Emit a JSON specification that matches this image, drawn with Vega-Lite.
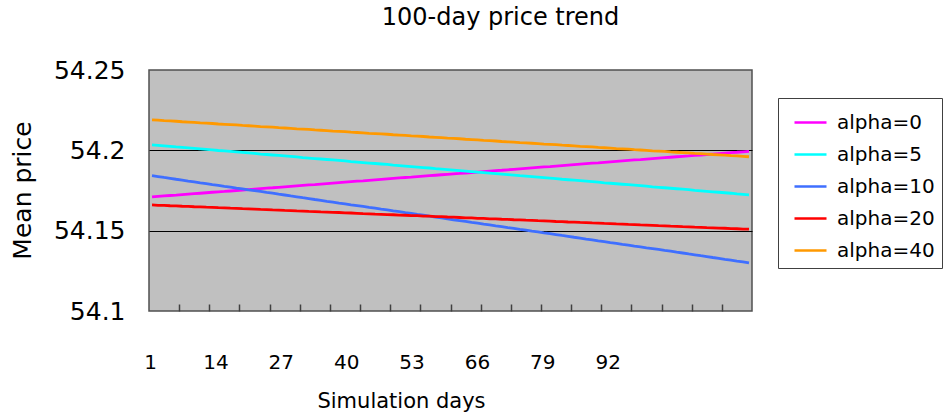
{
  "$schema": "https://vega.github.io/schema/vega-lite/v6.json",
  "width": 603,
  "height": 241,
  "autosize": {"type": "none"},
  "padding": {"left": 149, "top": 70, "right": 195, "bottom": 107},
  "background": "white",
  "config": {
    "font": "DejaVu Sans",
    "view": {"fill": "#C0C0C0", "stroke": "#505050", "strokeWidth": 1.5},
    "axis": {"labelColor": "black", "titleColor": "black", "titleFontWeight": "normal", "labelFont": "DejaVu Sans", "titleFont": "DejaVu Sans"},
    "legend": {
      "orient": "none", "legendX": 629, "legendY": 28,
      "symbolType": "stroke", "symbolSize": 1024, "symbolStrokeWidth": 2.5,
      "labelFont": "DejaVu Sans", "labelFontSize": 20, "labelColor": "black",
      "strokeColor": "#404040", "fillColor": "white", "padding": 7,
      "rowPadding": 4, "symbolOffset": 8, "labelOffset": 9
    }
  },
  "title": {
    "text": "100-day price trend", "font": "DejaVu Sans", "fontSize": 24, "fontWeight": "normal",
    "color": "black", "anchor": "middle", "frame": "group", "dx": 50, "offset": 28
  },
  "datasets": {
    "prices": [
      {"day":1,"alpha=0":54.1710,"alpha=5":54.2034,"alpha=10":54.1842,"alpha=20":54.1660,"alpha=40":54.2190},
      {"day":2,"alpha=0":54.1713,"alpha=5":54.2031,"alpha=10":54.1837,"alpha=20":54.1658,"alpha=40":54.2188},
      {"day":3,"alpha=0":54.1716,"alpha=5":54.2028,"alpha=10":54.1831,"alpha=20":54.1657,"alpha=40":54.2185},
      {"day":4,"alpha=0":54.1719,"alpha=5":54.2025,"alpha=10":54.1826,"alpha=20":54.1655,"alpha=40":54.2183},
      {"day":5,"alpha=0":54.1721,"alpha=5":54.2021,"alpha=10":54.1820,"alpha=20":54.1654,"alpha=40":54.2181},
      {"day":6,"alpha=0":54.1724,"alpha=5":54.2018,"alpha=10":54.1815,"alpha=20":54.1652,"alpha=40":54.2178},
      {"day":7,"alpha=0":54.1727,"alpha=5":54.2015,"alpha=10":54.1809,"alpha=20":54.1651,"alpha=40":54.2176},
      {"day":8,"alpha=0":54.1730,"alpha=5":54.2012,"alpha=10":54.1804,"alpha=20":54.1649,"alpha=40":54.2174},
      {"day":9,"alpha=0":54.1733,"alpha=5":54.2009,"alpha=10":54.1798,"alpha=20":54.1648,"alpha=40":54.2171},
      {"day":10,"alpha=0":54.1736,"alpha=5":54.2006,"alpha=10":54.1793,"alpha=20":54.1646,"alpha=40":54.2169},
      {"day":11,"alpha=0":54.1739,"alpha=5":54.2003,"alpha=10":54.1787,"alpha=20":54.1645,"alpha=40":54.2167},
      {"day":12,"alpha=0":54.1742,"alpha=5":54.1999,"alpha=10":54.1782,"alpha=20":54.1643,"alpha=40":54.2164},
      {"day":13,"alpha=0":54.1744,"alpha=5":54.1996,"alpha=10":54.1776,"alpha=20":54.1642,"alpha=40":54.2162},
      {"day":14,"alpha=0":54.1747,"alpha=5":54.1993,"alpha=10":54.1771,"alpha=20":54.1640,"alpha=40":54.2160},
      {"day":15,"alpha=0":54.1750,"alpha=5":54.1990,"alpha=10":54.1765,"alpha=20":54.1639,"alpha=40":54.2158},
      {"day":16,"alpha=0":54.1753,"alpha=5":54.1987,"alpha=10":54.1760,"alpha=20":54.1637,"alpha=40":54.2155},
      {"day":17,"alpha=0":54.1756,"alpha=5":54.1984,"alpha=10":54.1754,"alpha=20":54.1636,"alpha=40":54.2153},
      {"day":18,"alpha=0":54.1759,"alpha=5":54.1981,"alpha=10":54.1749,"alpha=20":54.1634,"alpha=40":54.2151},
      {"day":19,"alpha=0":54.1762,"alpha=5":54.1977,"alpha=10":54.1744,"alpha=20":54.1632,"alpha=40":54.2148},
      {"day":20,"alpha=0":54.1765,"alpha=5":54.1974,"alpha=10":54.1738,"alpha=20":54.1631,"alpha=40":54.2146},
      {"day":21,"alpha=0":54.1767,"alpha=5":54.1971,"alpha=10":54.1733,"alpha=20":54.1629,"alpha=40":54.2144},
      {"day":22,"alpha=0":54.1770,"alpha=5":54.1968,"alpha=10":54.1727,"alpha=20":54.1628,"alpha=40":54.2141},
      {"day":23,"alpha=0":54.1773,"alpha=5":54.1965,"alpha=10":54.1722,"alpha=20":54.1626,"alpha=40":54.2139},
      {"day":24,"alpha=0":54.1776,"alpha=5":54.1962,"alpha=10":54.1716,"alpha=20":54.1625,"alpha=40":54.2137},
      {"day":25,"alpha=0":54.1779,"alpha=5":54.1959,"alpha=10":54.1711,"alpha=20":54.1623,"alpha=40":54.2134},
      {"day":26,"alpha=0":54.1782,"alpha=5":54.1955,"alpha=10":54.1705,"alpha=20":54.1622,"alpha=40":54.2132},
      {"day":27,"alpha=0":54.1785,"alpha=5":54.1952,"alpha=10":54.1700,"alpha=20":54.1620,"alpha=40":54.2130},
      {"day":28,"alpha=0":54.1787,"alpha=5":54.1949,"alpha=10":54.1694,"alpha=20":54.1619,"alpha=40":54.2127},
      {"day":29,"alpha=0":54.1790,"alpha=5":54.1946,"alpha=10":54.1689,"alpha=20":54.1617,"alpha=40":54.2125},
      {"day":30,"alpha=0":54.1793,"alpha=5":54.1943,"alpha=10":54.1683,"alpha=20":54.1616,"alpha=40":54.2123},
      {"day":31,"alpha=0":54.1796,"alpha=5":54.1940,"alpha=10":54.1678,"alpha=20":54.1614,"alpha=40":54.2120},
      {"day":32,"alpha=0":54.1799,"alpha=5":54.1937,"alpha=10":54.1672,"alpha=20":54.1613,"alpha=40":54.2118},
      {"day":33,"alpha=0":54.1802,"alpha=5":54.1934,"alpha=10":54.1667,"alpha=20":54.1611,"alpha=40":54.2116},
      {"day":34,"alpha=0":54.1805,"alpha=5":54.1930,"alpha=10":54.1661,"alpha=20":54.1610,"alpha=40":54.2113},
      {"day":35,"alpha=0":54.1808,"alpha=5":54.1927,"alpha=10":54.1656,"alpha=20":54.1608,"alpha=40":54.2111},
      {"day":36,"alpha=0":54.1810,"alpha=5":54.1924,"alpha=10":54.1651,"alpha=20":54.1606,"alpha=40":54.2109},
      {"day":37,"alpha=0":54.1813,"alpha=5":54.1921,"alpha=10":54.1645,"alpha=20":54.1605,"alpha=40":54.2106},
      {"day":38,"alpha=0":54.1816,"alpha=5":54.1918,"alpha=10":54.1640,"alpha=20":54.1603,"alpha=40":54.2104},
      {"day":39,"alpha=0":54.1819,"alpha=5":54.1915,"alpha=10":54.1634,"alpha=20":54.1602,"alpha=40":54.2102},
      {"day":40,"alpha=0":54.1822,"alpha=5":54.1912,"alpha=10":54.1629,"alpha=20":54.1600,"alpha=40":54.2100},
      {"day":41,"alpha=0":54.1825,"alpha=5":54.1908,"alpha=10":54.1623,"alpha=20":54.1599,"alpha=40":54.2097},
      {"day":42,"alpha=0":54.1828,"alpha=5":54.1905,"alpha=10":54.1618,"alpha=20":54.1597,"alpha=40":54.2095},
      {"day":43,"alpha=0":54.1831,"alpha=5":54.1902,"alpha=10":54.1612,"alpha=20":54.1596,"alpha=40":54.2093},
      {"day":44,"alpha=0":54.1833,"alpha=5":54.1899,"alpha=10":54.1607,"alpha=20":54.1594,"alpha=40":54.2090},
      {"day":45,"alpha=0":54.1836,"alpha=5":54.1896,"alpha=10":54.1601,"alpha=20":54.1593,"alpha=40":54.2088},
      {"day":46,"alpha=0":54.1839,"alpha=5":54.1893,"alpha=10":54.1596,"alpha=20":54.1591,"alpha=40":54.2086},
      {"day":47,"alpha=0":54.1842,"alpha=5":54.1890,"alpha=10":54.1590,"alpha=20":54.1590,"alpha=40":54.2083},
      {"day":48,"alpha=0":54.1845,"alpha=5":54.1886,"alpha=10":54.1585,"alpha=20":54.1588,"alpha=40":54.2081},
      {"day":49,"alpha=0":54.1848,"alpha=5":54.1883,"alpha=10":54.1579,"alpha=20":54.1587,"alpha=40":54.2079},
      {"day":50,"alpha=0":54.1851,"alpha=5":54.1880,"alpha=10":54.1574,"alpha=20":54.1585,"alpha=40":54.2076},
      {"day":51,"alpha=0":54.1854,"alpha=5":54.1877,"alpha=10":54.1568,"alpha=20":54.1584,"alpha=40":54.2074},
      {"day":52,"alpha=0":54.1856,"alpha=5":54.1874,"alpha=10":54.1563,"alpha=20":54.1582,"alpha=40":54.2072},
      {"day":53,"alpha=0":54.1859,"alpha=5":54.1871,"alpha=10":54.1558,"alpha=20":54.1580,"alpha=40":54.2069},
      {"day":54,"alpha=0":54.1862,"alpha=5":54.1868,"alpha=10":54.1552,"alpha=20":54.1579,"alpha=40":54.2067},
      {"day":55,"alpha=0":54.1865,"alpha=5":54.1864,"alpha=10":54.1547,"alpha=20":54.1577,"alpha=40":54.2065},
      {"day":56,"alpha=0":54.1868,"alpha=5":54.1861,"alpha=10":54.1541,"alpha=20":54.1576,"alpha=40":54.2062},
      {"day":57,"alpha=0":54.1871,"alpha=5":54.1858,"alpha=10":54.1536,"alpha=20":54.1574,"alpha=40":54.2060},
      {"day":58,"alpha=0":54.1874,"alpha=5":54.1855,"alpha=10":54.1530,"alpha=20":54.1573,"alpha=40":54.2058},
      {"day":59,"alpha=0":54.1876,"alpha=5":54.1852,"alpha=10":54.1525,"alpha=20":54.1571,"alpha=40":54.2055},
      {"day":60,"alpha=0":54.1879,"alpha=5":54.1849,"alpha=10":54.1519,"alpha=20":54.1570,"alpha=40":54.2053},
      {"day":61,"alpha=0":54.1882,"alpha=5":54.1846,"alpha=10":54.1514,"alpha=20":54.1568,"alpha=40":54.2051},
      {"day":62,"alpha=0":54.1885,"alpha=5":54.1842,"alpha=10":54.1508,"alpha=20":54.1567,"alpha=40":54.2048},
      {"day":63,"alpha=0":54.1888,"alpha=5":54.1839,"alpha=10":54.1503,"alpha=20":54.1565,"alpha=40":54.2046},
      {"day":64,"alpha=0":54.1891,"alpha=5":54.1836,"alpha=10":54.1497,"alpha=20":54.1564,"alpha=40":54.2044},
      {"day":65,"alpha=0":54.1894,"alpha=5":54.1833,"alpha=10":54.1492,"alpha=20":54.1562,"alpha=40":54.2042},
      {"day":66,"alpha=0":54.1897,"alpha=5":54.1830,"alpha=10":54.1486,"alpha=20":54.1561,"alpha=40":54.2039},
      {"day":67,"alpha=0":54.1899,"alpha=5":54.1827,"alpha=10":54.1481,"alpha=20":54.1559,"alpha=40":54.2037},
      {"day":68,"alpha=0":54.1902,"alpha=5":54.1824,"alpha=10":54.1476,"alpha=20":54.1557,"alpha=40":54.2035},
      {"day":69,"alpha=0":54.1905,"alpha=5":54.1820,"alpha=10":54.1470,"alpha=20":54.1556,"alpha=40":54.2032},
      {"day":70,"alpha=0":54.1908,"alpha=5":54.1817,"alpha=10":54.1465,"alpha=20":54.1554,"alpha=40":54.2030},
      {"day":71,"alpha=0":54.1911,"alpha=5":54.1814,"alpha=10":54.1459,"alpha=20":54.1553,"alpha=40":54.2028},
      {"day":72,"alpha=0":54.1914,"alpha=5":54.1811,"alpha=10":54.1454,"alpha=20":54.1551,"alpha=40":54.2025},
      {"day":73,"alpha=0":54.1917,"alpha=5":54.1808,"alpha=10":54.1448,"alpha=20":54.1550,"alpha=40":54.2023},
      {"day":74,"alpha=0":54.1920,"alpha=5":54.1805,"alpha=10":54.1443,"alpha=20":54.1548,"alpha=40":54.2021},
      {"day":75,"alpha=0":54.1922,"alpha=5":54.1802,"alpha=10":54.1437,"alpha=20":54.1547,"alpha=40":54.2018},
      {"day":76,"alpha=0":54.1925,"alpha=5":54.1798,"alpha=10":54.1432,"alpha=20":54.1545,"alpha=40":54.2016},
      {"day":77,"alpha=0":54.1928,"alpha=5":54.1795,"alpha=10":54.1426,"alpha=20":54.1544,"alpha=40":54.2014},
      {"day":78,"alpha=0":54.1931,"alpha=5":54.1792,"alpha=10":54.1421,"alpha=20":54.1542,"alpha=40":54.2011},
      {"day":79,"alpha=0":54.1934,"alpha=5":54.1789,"alpha=10":54.1415,"alpha=20":54.1541,"alpha=40":54.2009},
      {"day":80,"alpha=0":54.1937,"alpha=5":54.1786,"alpha=10":54.1410,"alpha=20":54.1539,"alpha=40":54.2007},
      {"day":81,"alpha=0":54.1940,"alpha=5":54.1783,"alpha=10":54.1404,"alpha=20":54.1538,"alpha=40":54.2004},
      {"day":82,"alpha=0":54.1942,"alpha=5":54.1780,"alpha=10":54.1399,"alpha=20":54.1536,"alpha=40":54.2002},
      {"day":83,"alpha=0":54.1945,"alpha=5":54.1777,"alpha=10":54.1393,"alpha=20":54.1535,"alpha=40":54.2000},
      {"day":84,"alpha=0":54.1948,"alpha=5":54.1773,"alpha=10":54.1388,"alpha=20":54.1533,"alpha=40":54.1997},
      {"day":85,"alpha=0":54.1951,"alpha=5":54.1770,"alpha=10":54.1383,"alpha=20":54.1531,"alpha=40":54.1995},
      {"day":86,"alpha=0":54.1954,"alpha=5":54.1767,"alpha=10":54.1377,"alpha=20":54.1530,"alpha=40":54.1993},
      {"day":87,"alpha=0":54.1957,"alpha=5":54.1764,"alpha=10":54.1372,"alpha=20":54.1528,"alpha=40":54.1990},
      {"day":88,"alpha=0":54.1960,"alpha=5":54.1761,"alpha=10":54.1366,"alpha=20":54.1527,"alpha=40":54.1988},
      {"day":89,"alpha=0":54.1963,"alpha=5":54.1758,"alpha=10":54.1361,"alpha=20":54.1525,"alpha=40":54.1986},
      {"day":90,"alpha=0":54.1965,"alpha=5":54.1755,"alpha=10":54.1355,"alpha=20":54.1524,"alpha=40":54.1984},
      {"day":91,"alpha=0":54.1968,"alpha=5":54.1751,"alpha=10":54.1350,"alpha=20":54.1522,"alpha=40":54.1981},
      {"day":92,"alpha=0":54.1971,"alpha=5":54.1748,"alpha=10":54.1344,"alpha=20":54.1521,"alpha=40":54.1979},
      {"day":93,"alpha=0":54.1974,"alpha=5":54.1745,"alpha=10":54.1339,"alpha=20":54.1519,"alpha=40":54.1977},
      {"day":94,"alpha=0":54.1977,"alpha=5":54.1742,"alpha=10":54.1333,"alpha=20":54.1518,"alpha=40":54.1974},
      {"day":95,"alpha=0":54.1980,"alpha=5":54.1739,"alpha=10":54.1328,"alpha=20":54.1516,"alpha=40":54.1972},
      {"day":96,"alpha=0":54.1983,"alpha=5":54.1736,"alpha=10":54.1322,"alpha=20":54.1515,"alpha=40":54.1970},
      {"day":97,"alpha=0":54.1986,"alpha=5":54.1733,"alpha=10":54.1317,"alpha=20":54.1513,"alpha=40":54.1967},
      {"day":98,"alpha=0":54.1988,"alpha=5":54.1729,"alpha=10":54.1311,"alpha=20":54.1512,"alpha=40":54.1965},
      {"day":99,"alpha=0":54.1991,"alpha=5":54.1726,"alpha=10":54.1306,"alpha=20":54.1510,"alpha=40":54.1963},
      {"day":100,"alpha=0":54.1994,"alpha=5":54.1723,"alpha=10":54.1300,"alpha=20":54.1509,"alpha=40":54.1960}
    ],
    "dayLabels": [
      {"day": 1}, {"day": 14}, {"day": 27}, {"day": 40},
      {"day": 53}, {"day": 66}, {"day": 79}, {"day": 92}
    ]
  },
  "layer": [
    {
      "data": {"name": "prices"},
      "transform": [
        {"fold": ["alpha=0", "alpha=5", "alpha=10", "alpha=20", "alpha=40"], "as": ["series", "price"]}
      ],
      "mark": {"type": "line", "strokeWidth": 2.8},
      "encoding": {
        "x": {
          "field": "day", "type": "quantitative",
          "scale": {"domain": [0.5, 100.5], "nice": false, "zero": false},
          "axis": {
            "orient": "bottom",
            "values": [5.5, 10.5, 15.5, 20.5, 25.5, 30.5, 35.5, 40.5, 45.5, 50.5, 55.5, 60.5, 65.5, 70.5, 75.5, 80.5, 85.5, 90.5, 95.5],
            "labels": false, "ticks": true, "tickSize": -7, "tickColor": "#404040", "tickWidth": 1.5,
            "domain": false, "grid": false, "title": null
          }
        },
        "y": {
          "field": "price", "type": "quantitative",
          "scale": {"domain": [54.1, 54.25], "nice": false, "zero": false},
          "axis": {
            "title": "Mean price", "titleFontSize": 25, "titleX": -127, "titleY": 120,
            "titleBaseline": "middle", "titleAngle": -90,
            "values": [54.1, 54.15, 54.2, 54.25], "format": "~g",
            "labelFontSize": 25, "labelPadding": 24,
            "ticks": false, "domain": false,
            "grid": true, "gridColor": "black", "gridWidth": 1,
            "gridOpacity": {"condition": {"test": "datum.value > 54.11 && datum.value < 54.24", "value": 1}, "value": 0}
          }
        },
        "color": {
          "field": "series", "type": "nominal",
          "scale": {
            "domain": ["alpha=0", "alpha=5", "alpha=10", "alpha=20", "alpha=40"],
            "range": ["#FF00FF", "#00FFFF", "#3F6FFF", "#FF0000", "#FF9900"]
          },
          "legend": {"title": null}
        }
      }
    },
    {
      "data": {"name": "dayLabels"},
      "mark": {"type": "point", "opacity": 0},
      "encoding": {
        "x": {
          "field": "day", "type": "quantitative",
          "scale": {"domain": [0.8, 120.7], "nice": false, "zero": false},
          "axis": {
            "orient": "bottom", "values": [1, 14, 27, 40, 53, 66, 79, 92],
            "ticks": false, "domain": false, "grid": false,
            "labelFontSize": 20, "labelPadding": 41,
            "title": "Simulation days", "titleFontSize": 21,
            "titleX": 252, "titleY": 90, "titleBaseline": "middle"
          }
        }
      }
    }
  ],
  "resolve": {"scale": {"x": "independent"}, "axis": {"x": "independent"}}
}
